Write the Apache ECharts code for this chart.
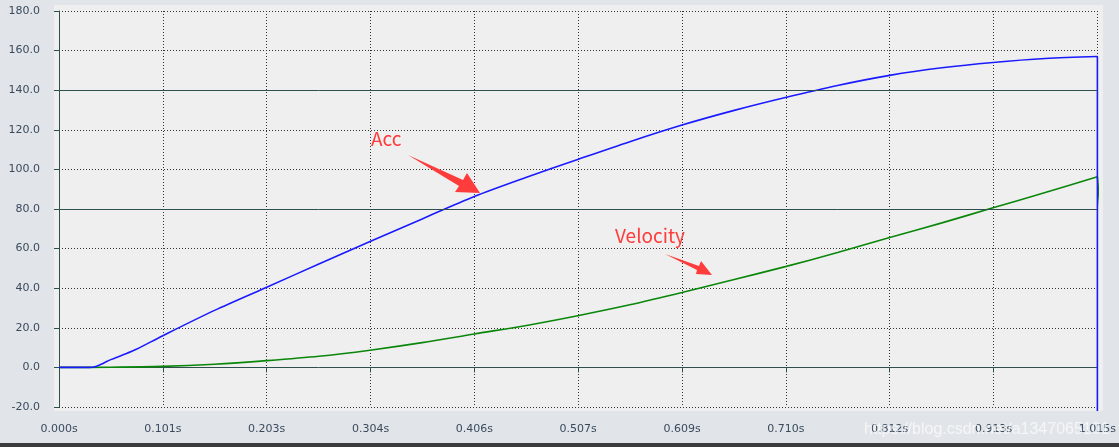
<!DOCTYPE html>
<html>
<head>
<meta charset="utf-8">
<script src="https://cdn.jsdelivr.net/npm/echarts@6/dist/echarts.min.js"></script>
<style>
html, body { margin: 0; padding: 0; background: #e1e5ea; }
.chart { width: 1119px; height: 447px; }
</style>
</head>
<body>
<div class="chart" id="chart"></div>
<script>
// x tick labels (s)
const xTickLabels = ['0.000s', '0.101s', '0.203s', '0.304s', '0.406s', '0.507s', '0.609s', '0.710s', '0.812s', '0.913s', '1.015s']
const xStep = 0.1015

// Acc curve (blue)
const accTime = [0, 0.030, 0.036, 0.043, 0.050, 0.064, 0.075, 0.101, 0.152, 0.203, 0.254, 0.304, 0.355, 0.406, 0.457, 0.507, 0.558, 0.609, 0.660, 0.710, 0.761, 0.812, 0.863, 0.913, 0.964, 1.015]
const accValues = [0, 0, 0.5, 2.0, 3.8, 6.6, 9.0, 15.9, 28.8, 40.5, 52.2, 63.6, 75.0, 86.3, 96.0, 105.0, 114.0, 122.4, 129.8, 136.3, 142.4, 147.5, 151.3, 154.0, 156.0, 157.0]
// drop of the Acc trace at the end of the record
const accDropTime = [1.015, 1.015]
const accDropValues = [157.0, -22]

// Velocity curve (green)
const velTime = [0, 0.050, 0.101, 0.152, 0.203, 0.254, 0.304, 0.355, 0.406, 0.457, 0.507, 0.558, 0.609, 0.660, 0.710, 0.761, 0.812, 0.863, 0.913, 0.964, 1.015]
const velValues = [0, 0.1, 0.5, 1.6, 3.4, 5.6, 8.7, 12.5, 16.9, 21.2, 26.1, 31.6, 37.8, 44.4, 50.9, 58.0, 65.6, 73.0, 80.6, 88.3, 96.3]
const velDropTime = [1.015, 1.0195]
const velDropValues = [96.3, 67.5]

// solid reference lines
const refLines = [140, 80]

const axisColor = '#2f4f4f'
const labelColor = '#3a4a5c'
const red = '#ff3c3c'
const blue = '#1a1aff'
const green = '#0a870a'

const myChart = echarts.init(document.getElementById('chart'))

const option = {
    animation: false,
    backgroundColor: '#e1e5ea',
    grid: {
        left: 59,
        right: 20,
        top: 11,
        bottom: 40
    },
    xAxis: {
        type: 'value',
        min: 0,
        max: 1.015,
        interval: xStep,
        offset: 11,
        axisLine: { lineStyle: { color: axisColor, width: 1 } },
        axisTick: { length: 5, lineStyle: { color: axisColor } },
        axisLabel: {
            margin: 6,
            color: labelColor,
            fontFamily: 'DejaVu Sans',
            fontSize: 11,
            formatter: (v) => xTickLabels[Math.round(v / xStep)]
        },
        splitLine: {
            show: true,
            lineStyle: { color: '#333', type: [1, 2], width: 1 }
        }
    },
    yAxis: {
        type: 'value',
        min: -20,
        max: 180,
        interval: 20,
        offset: 10,
        axisLine: { show: true, lineStyle: { color: axisColor, width: 1 } },
        axisTick: { show: true, length: 5, lineStyle: { color: axisColor } },
        axisLabel: {
            margin: 9,
            color: labelColor,
            fontFamily: 'DejaVu Sans',
            fontSize: 11,
            formatter: (v) => v.toFixed(1)
        },
        splitLine: {
            show: true,
            lineStyle: { color: '#333', type: [1, 2], width: 1 }
        }
    },
    series: [
        {
            name: 'Velocity',
            type: 'line',
            data: velTime.map((t, i) => [t, velValues[i]]),
            smooth: 0.3,
            showSymbol: false,
            z: 3,
            lineStyle: { color: green, width: 1.6 },
            markLine: {
                silent: true,
                symbol: 'none',
                label: { show: false },
                lineStyle: { color: axisColor, type: 'solid', width: 1 },
                data: refLines.map(v => ({ yAxis: v }))
            }
        },
        {
            name: 'VelocityDrop',
            type: 'line',
            data: velDropTime.map((t, i) => [t, velDropValues[i]]),
            showSymbol: false,
            clip: false,
            z: 3,
            lineStyle: { color: green, width: 1.6 }
        },
        {
            name: 'Acc',
            type: 'line',
            data: accTime.map((t, i) => [t, accValues[i]]),
            smooth: 0.3,
            showSymbol: false,
            z: 4,
            lineStyle: { color: blue, width: 1.6 }
        },
        {
            name: 'AccDrop',
            type: 'line',
            data: accDropTime.map((t, i) => [t, accDropValues[i]]),
            showSymbol: false,
            clip: false,
            z: 4,
            lineStyle: { color: blue, width: 1.6 }
        }
    ],
    graphic: [
        {
            type: 'rect',
            silent: true,
            z: -10,
            shape: { x: 54, y: 5, width: 1049, height: 406 },
            style: { fill: '#efefef' }
        },
        {
            type: 'rect',
            silent: true,
            z: -10,
            shape: { x: 0, y: 443, width: 1119, height: 4 },
            style: { fill: '#3b3b3b' }
        },
        {
            type: 'text',
            silent: true,
            z: 10,
            x: 371,
            y: 139,
            style: { text: 'Acc', fill: red, font: '19px "Noto Sans CJK SC"', verticalAlign: 'middle' }
        },
        {
            type: 'polygon',
            silent: true,
            z: 10,
            shape: { points: [[408, 155], [463, 180], [467, 173], [480, 193], [455, 192], [459, 186]] },
            style: { fill: red }
        },
        {
            type: 'text',
            silent: true,
            z: 10,
            x: 615,
            y: 236,
            style: { text: 'Velocity', fill: red, font: '19px "Noto Sans CJK SC"', verticalAlign: 'middle' }
        },
        {
            type: 'polygon',
            silent: true,
            z: 10,
            shape: { points: [[665, 254], [699, 266], [701, 261], [712, 275], [696, 274], [697, 270]] },
            style: { fill: red }
        },
        {
            type: 'text',
            silent: true,
            z: 10,
            x: 864,
            y: 430,
            style: { text: 'https://blog.csdn.net/a1347065101', fill: 'rgba(255,255,255,0.65)', font: '16px "Liberation Sans"', verticalAlign: 'middle' }
        }
    ]
}
myChart.setOption(option)
</script>
</body>
</html>
